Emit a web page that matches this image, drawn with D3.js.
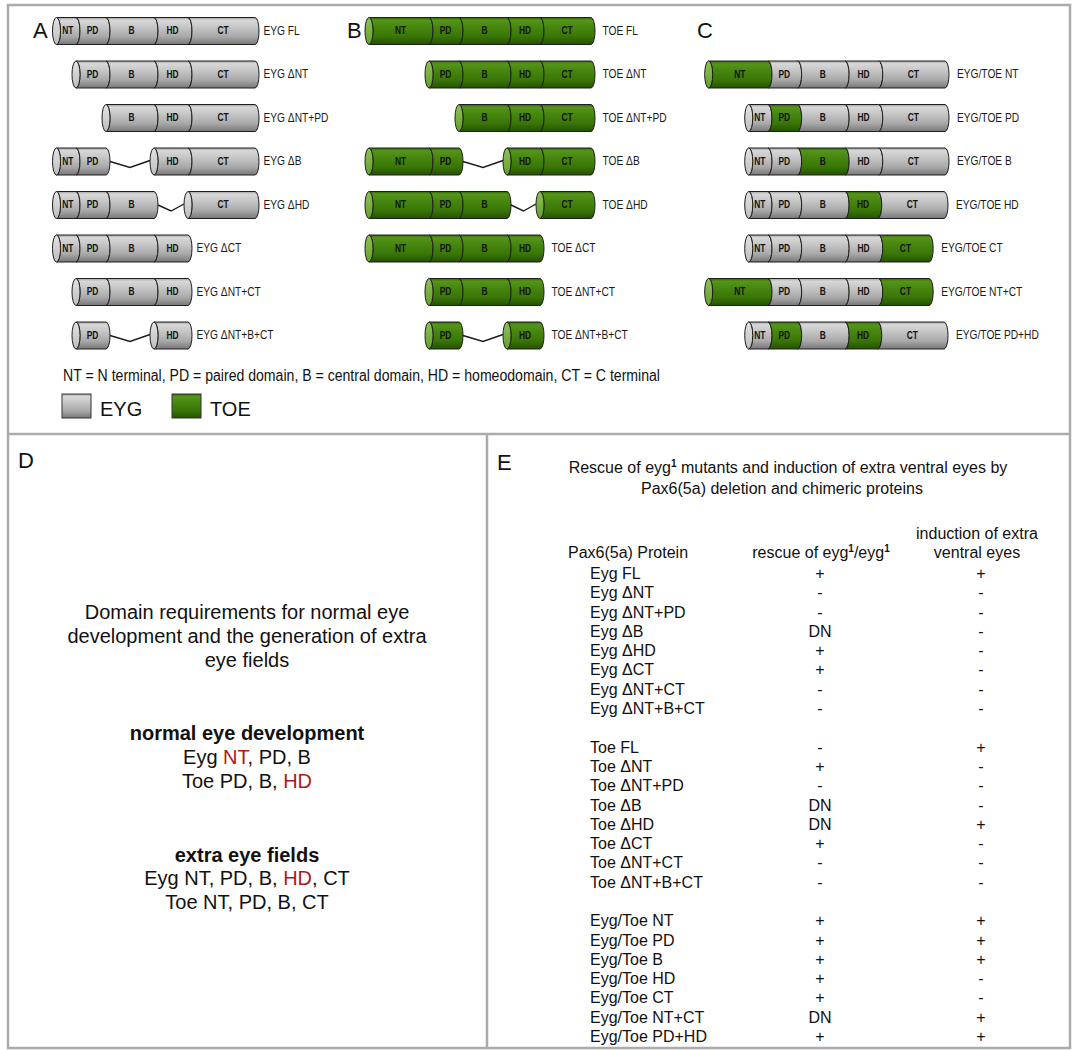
<!DOCTYPE html>
<html><head><meta charset="utf-8">
<script src="https://cdn.jsdelivr.net/npm/d3@7"></script>
<style>
html,body{margin:0;padding:0;background:#fff;}
svg{display:block;}
</style></head><body>
<svg id="fig" width="1073" height="1050"></svg>
<script>
// ================= DATA =================
const domainNames = ["NT", "PD", "B", "HD", "CT"];
// relative domain lengths
const eygDomainLengths = [19.5, 30, 48, 34, 67];
const toeDomainLengths = [60, 30, 48, 33, 51];

const eygConstructs = ["EYG FL", "EYG ΔNT", "EYG ΔNT+PD", "EYG ΔB", "EYG ΔHD", "EYG ΔCT", "EYG ΔNT+CT", "EYG ΔNT+B+CT"];
const toeConstructs = ["TOE FL", "TOE ΔNT", "TOE ΔNT+PD", "TOE ΔB", "TOE ΔHD", "TOE ΔCT", "TOE ΔNT+CT", "TOE ΔNT+B+CT"];
const deletionDomains = [
  ["NT", "PD", "B", "HD", "CT"],
  ["PD", "B", "HD", "CT"],
  ["B", "HD", "CT"],
  ["NT", "PD", "HD", "CT"],
  ["NT", "PD", "B", "CT"],
  ["NT", "PD", "B", "HD"],
  ["PD", "B", "HD"],
  ["PD", "HD"]
];
const chimeraConstructs = ["EYG/TOE NT", "EYG/TOE PD", "EYG/TOE B", "EYG/TOE HD", "EYG/TOE CT", "EYG/TOE NT+CT", "EYG/TOE PD+HD"];
const chimeraToeDomains = [["NT"], ["PD"], ["B"], ["HD"], ["CT"], ["NT", "CT"], ["PD", "HD"]];

const panelLetters = ["A", "B", "C", "D", "E"];
const abbreviationText = "NT = N terminal, PD = paired domain, B = central domain, HD = homeodomain, CT = C terminal";
const legendSpecies = ["EYG", "TOE"];

// Panel D text ([text, highlighted])
const dTitleLines = ["Domain requirements for normal eye", "development and the generation of extra", "eye fields"];
const dNormalHeading = "normal eye development";
const dNormalLines = [
  [["Eyg ", false], ["NT", true], [", PD, B", false]],
  [["Toe PD, B, ", false], ["HD", true]]
];
const dExtraHeading = "extra eye fields";
const dExtraLines = [
  [["Eyg NT, PD, B, ", false], ["HD", true], [", CT", false]],
  [["Toe NT, PD, B, CT", false]]
];

// Panel E table
const eTitle1 = ["Rescue of eyg", "1", " mutants and induction of extra ventral eyes by"];
const eTitle2 = "Pax6(5a) deletion and chimeric proteins";
const eHeaderProtein = "Pax6(5a) Protein";
const eHeaderRescue = ["rescue of eyg", "1", "/eyg", "1"];
const eHeaderInduction = ["induction of extra", "ventral eyes"];

const eygRows = ["Eyg FL", "Eyg ΔNT", "Eyg ΔNT+PD", "Eyg ΔB", "Eyg ΔHD", "Eyg ΔCT", "Eyg ΔNT+CT", "Eyg ΔNT+B+CT"];
const eygRescue = ["+", "-", "-", "DN", "+", "+", "-", "-"];
const eygInduction = ["+", "-", "-", "-", "-", "-", "-", "-"];
const toeRows = ["Toe FL", "Toe ΔNT", "Toe ΔNT+PD", "Toe ΔB", "Toe ΔHD", "Toe ΔCT", "Toe ΔNT+CT", "Toe ΔNT+B+CT"];
const toeRescue = ["-", "+", "-", "DN", "DN", "+", "-", "-"];
const toeInduction = ["+", "-", "-", "-", "+", "-", "-", "-"];
const chimRows = ["Eyg/Toe NT", "Eyg/Toe PD", "Eyg/Toe B", "Eyg/Toe HD", "Eyg/Toe CT", "Eyg/Toe NT+CT", "Eyg/Toe PD+HD"];
const chimRescue = ["+", "+", "+", "+", "+", "DN", "+"];
const chimInduction = ["+", "+", "+", "-", "-", "+", "+"];

// ================= STYLE / LAYOUT =================
const W = 1073, H = 1050;
const RX = 4, RY = 13.5;
const SANS = "'Liberation Sans', Arial, Helvetica, sans-serif";
const RED = "#b2161b";
const BORDER = "#ababab";

const svg = d3.select("#fig");
svg.append("rect").attr("width", W).attr("height", H).attr("fill", "#fff");

const defs = svg.append("defs");
function vgrad(id, stops) {
  const g = defs.append("linearGradient").attr("id", id).attr("x1", 0).attr("y1", 0).attr("x2", 0).attr("y2", 1);
  stops.forEach(s => g.append("stop").attr("offset", s[0]).attr("stop-color", s[1]));
}
vgrad("body-eyg", [[0, "#a0a0a0"], [0.1, "#d8d8d8"], [0.35, "#c6c6c6"], [0.7, "#a9a9a9"], [1, "#787878"]]);
vgrad("body-toe", [[0, "#2f6603"], [0.1, "#55951a"], [0.35, "#478710"], [0.7, "#3a7606"], [1, "#245100"]]);
vgrad("cap-eyg", [[0, "#e4e4e4"], [1, "#bdbdbd"]]);
vgrad("cap-toe", [[0, "#8fc255"], [1, "#64a02c"]]);

// narrow text helper (Arial Narrow look: horizontally condensed sans)
function narrowText(g, x, y, str, size, sx, opts) {
  const t = g.append("text")
    .attr("transform", `translate(${x},${y}) scale(${sx},1)`)
    .attr("dy", "0.36em")
    .attr("font-family", SANS).attr("font-size", size)
    .attr("fill", opts.fill || "#151515")
    .attr("text-anchor", opts.anchor || "start")
    .attr("font-weight", opts.bold ? "bold" : "normal")
    .text(str);
  return t;
}

// frame
const frame = svg.append("g").attr("fill", "none").attr("stroke", BORDER).attr("stroke-width", 2.5);
frame.append("rect").attr("x", 8).attr("y", 5).attr("width", 1062).attr("height", 1043);
frame.append("line").attr("x1", 8).attr("x2", 1070).attr("y1", 434).attr("y2", 434);
frame.append("line").attr("x1", 487).attr("x2", 487).attr("y1", 434).attr("y2", 1048);

// scales
const yRow = d3.scaleLinear().domain([0, 7]).range([31, 335.5]);
const xA = d3.scaleLinear().domain([0, 179]).range([76, 255]);
const xB = d3.scaleLinear().domain([0, 162]).range([429, 591]);
const xC = d3.scaleLinear().domain([0, 179]).range([768, 945]);

function layoutDeletion(lengths, species, present) {
  const starts = [];
  let acc = -lengths[0];
  lengths.forEach(l => { starts.push(acc); acc += l; });
  return present.map(name => {
    const i = domainNames.indexOf(name);
    return { name, idx: i, species, u0: starts[i], u1: starts[i] + lengths[i] };
  });
}
function layoutChimera(toeSet) {
  const lenOf = (sp, i) => (sp === "toe" ? toeDomainLengths : eygDomainLengths)[i];
  let acc = -lenOf(toeSet.includes("NT") ? "toe" : "eyg", 0);
  return domainNames.map((name, i) => {
    const sp = toeSet.includes(name) ? "toe" : "eyg";
    const len = lenOf(sp, i);
    const s = { name, idx: i, species: sp, u0: acc, u1: acc + len };
    acc += len;
    return s;
  });
}

function drawConstruct(g, x, yc, segs, label, labelGap) {
  const blocks = [];
  segs.forEach((s, k) => {
    if (k > 0 && s.idx === segs[k - 1].idx + 1) blocks[blocks.length - 1].push(s);
    else blocks.push([s]);
  });
  blocks.forEach((b, bi) => {
    if (bi > 0) {
      const prev = blocks[bi - 1];
      const xs = x(prev[prev.length - 1].u1) + RX;
      const xe = x(b[0].u0) - RX;
      g.append("path")
        .attr("d", d3.line()([[xs, yc], [(xs + xe) / 2, yc + 6], [xe, yc - 1]]))
        .attr("fill", "none").attr("stroke", "#1c1c1c").attr("stroke-width", 1.4);
    }
    b.forEach(s => {
      const x0 = x(s.u0), x1 = x(s.u1);
      g.append("path")
        .attr("d", `M${x0},${yc - RY}L${x1},${yc - RY}A${RX},${RY} 0 0 1 ${x1},${yc + RY}L${x0},${yc + RY}A${RX},${RY} 0 0 0 ${x0},${yc - RY}Z`)
        .attr("fill", `url(#body-${s.species})`)
        .attr("stroke", "#1e1e1e").attr("stroke-width", 1);
      narrowText(g, (x0 + x1) / 2 + 1.5, yc - 0.5, s.name, 10.5, 0.8, { anchor: "middle", bold: true, fill: "#121212" });
    });
    g.append("ellipse")
      .attr("cx", x(b[0].u0)).attr("cy", yc).attr("rx", RX).attr("ry", RY)
      .attr("fill", `url(#cap-${b[0].species})`)
      .attr("stroke", "#1e1e1e").attr("stroke-width", 1);
  });
  const last = segs[segs.length - 1];
  narrowText(g, x(last.u1) + labelGap, yc - 0.5, label, 12, 0.85, { fill: "#1a1a1a" });
}

// panel letters
const letterPos = [[33, 38], [347, 38], [697, 38], [18, 468], [497, 470]];
panelLetters.forEach((L, i) => {
  svg.append("text").attr("x", letterPos[i][0]).attr("y", letterPos[i][1])
    .attr("font-family", SANS).attr("font-size", 22).attr("fill", "#111").text(L);
});

// Panel A
const gA = svg.append("g");
eygConstructs.forEach((name, i) =>
  drawConstruct(gA, xA, yRow(i), layoutDeletion(eygDomainLengths, "eyg", deletionDomains[i]), name, 8.5));
// Panel B
const gB = svg.append("g");
toeConstructs.forEach((name, i) =>
  drawConstruct(gB, xB, yRow(i), layoutDeletion(toeDomainLengths, "toe", deletionDomains[i]), name, 11.5));
// Panel C
const gC = svg.append("g");
chimeraConstructs.forEach((name, i) =>
  drawConstruct(gC, xC, yRow(i + 1), layoutChimera(chimeraToeDomains[i]), name, 12));

// abbreviations + legend
svg.append("text").attr("x", 63).attr("y", 381)
  .attr("font-family", SANS).attr("font-size", 16).attr("fill", "#111")
  .attr("textLength", 597).attr("lengthAdjust", "spacingAndGlyphs")
  .text(abbreviationText);
const legX = [62, 172];
legendSpecies.forEach((sp, i) => {
  svg.append("rect").attr("x", legX[i]).attr("y", 394).attr("width", 29).attr("height", 24)
    .attr("fill", `url(#body-${sp.toLowerCase()})`).attr("stroke", "#333").attr("stroke-width", 1);
  svg.append("text").attr("x", legX[i] + 38).attr("y", 416)
    .attr("font-family", SANS).attr("font-size", 20).attr("fill", "#111").text(sp);
});

// Panel D
const dCx = 247;
function dLine(y, parts, bold) {
  const t = svg.append("text").attr("x", dCx).attr("y", y).attr("text-anchor", "middle")
    .attr("font-family", SANS).attr("font-size", 20).attr("fill", "#111")
    .attr("font-weight", bold ? "bold" : "normal");
  parts.forEach(p => t.append("tspan").attr("fill", p[1] ? RED : "#111").text(p[0]));
}
dTitleLines.forEach((l, i) => dLine(619 + i * 24, [[l, false]], false));
dLine(740, [[dNormalHeading, false]], true);
dNormalLines.forEach((l, i) => dLine(764 + i * 24, l, false));
dLine(862, [[dExtraHeading, false]], true);
dExtraLines.forEach((l, i) => dLine(885 + i * 24, l, false));

// Panel E
const eCx = 788;
function supText(x, y, parts, anchor) {
  const t = svg.append("text").attr("x", x).attr("y", y).attr("text-anchor", anchor)
    .attr("font-family", SANS).attr("font-size", 16).attr("fill", "#111");
  parts.forEach((p, k) => {
    const isSup = k % 2 === 1;
    const ts = t.append("tspan").text(p);
    if (isSup) ts.attr("font-size", 10).attr("font-weight", "bold").attr("dy", -6);
    else if (k > 0) ts.attr("dy", 6);
  });
}
supText(eCx, 473, eTitle1, "middle");
svg.append("text").attr("x", eCx - 6).attr("y", 494).attr("text-anchor", "middle")
  .attr("font-family", SANS).attr("font-size", 16).attr("fill", "#111").text(eTitle2);

const colName = 590, colRescue = 820, colInduction = 981;
svg.append("text").attr("x", 568).attr("y", 558).attr("font-family", SANS).attr("font-size", 16).attr("fill", "#111").text(eHeaderProtein);
supText(colRescue + 1, 558, eHeaderRescue, "middle");
eHeaderInduction.forEach((l, i) =>
  svg.append("text").attr("x", 977).attr("y", 539 + i * 19).attr("text-anchor", "middle")
    .attr("font-family", SANS).attr("font-size", 16).attr("fill", "#111").text(l));

const yTable = d3.scaleLinear().domain([0, 24]).range([579, 1042]);
const groups = [
  { rows: eygRows, rescue: eygRescue, induction: eygInduction, start: 0 },
  { rows: toeRows, rescue: toeRescue, induction: toeInduction, start: 9 },
  { rows: chimRows, rescue: chimRescue, induction: chimInduction, start: 18 }
];
const gE = svg.append("g").attr("font-family", SANS).attr("font-size", 16).attr("fill", "#111");
groups.forEach(gr => {
  gr.rows.forEach((r, i) => {
    const y = yTable(gr.start + i);
    gE.append("text").attr("x", colName).attr("y", y).text(r);
    gE.append("text").attr("x", colRescue).attr("y", y).attr("text-anchor", "middle").text(gr.rescue[i]);
    gE.append("text").attr("x", colInduction).attr("y", y).attr("text-anchor", "middle").text(gr.induction[i]);
  });
});
</script>
</body></html>
